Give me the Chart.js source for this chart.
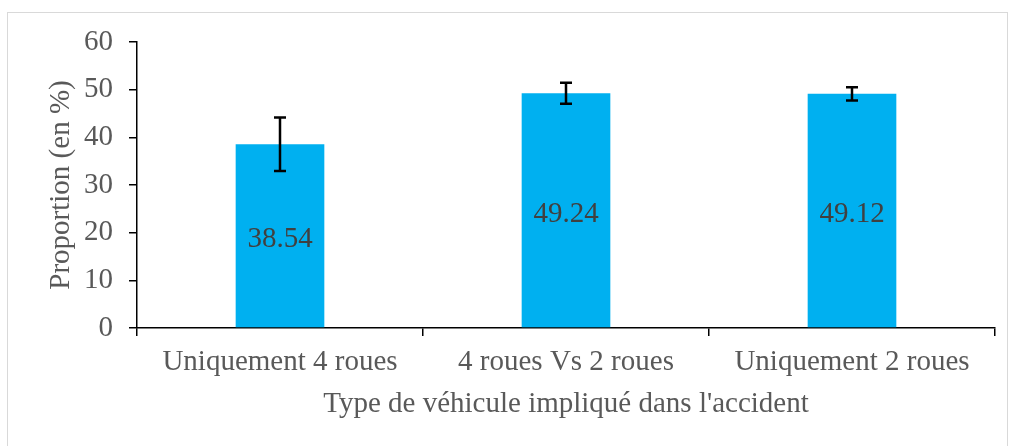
<!DOCTYPE html>
<html>
<head>
<meta charset="utf-8">
<script src="https://cdn.jsdelivr.net/npm/chart.js@4/dist/chart.umd.min.js"></script>
<style>
  html, body { margin: 0; padding: 0; background: #fff; }
  #wrap { width: 1011px; height: 446px; }
</style>
</head>
<body>
<div id="wrap"><canvas id="chart"></canvas></div>
<script>
const categories = ["Uniquement 4 roues", "4 roues Vs 2 roues", "Uniquement 2 roues"];
const proportions = [38.54, 49.24, 49.12];
const errors = [5.6, 2.2, 1.4];
const yTicks = [0, 10, 20, 30, 40, 50, 60];

const serif = "'Liberation Serif', 'Times New Roman', serif";
const fontSize = 29;

// light grey frame around the whole figure
const framePlugin = {
  id: "frame",
  beforeDraw(chart) {
    const ctx = chart.ctx;
    ctx.save();
    ctx.strokeStyle = "#d9d9d9";
    ctx.lineWidth = 1;
    ctx.strokeRect(7.5, 12.5, 1000, 440);
    ctx.restore();
  },
};

// error bars + value labels inside the bars
const barExtras = {
  id: "barExtras",
  afterDatasetsDraw(chart) {
    const ctx = chart.ctx;
    const meta = chart.getDatasetMeta(0);
    const y = chart.scales.y;
    ctx.save();
    meta.data.forEach((bar, i) => {
      const v = proportions[i];
      const e = errors[i];
      // value label
      ctx.fillStyle = "#404040";
      ctx.font = fontSize + "px " + serif;
      ctx.textAlign = "center";
      ctx.textBaseline = "middle";
      ctx.fillText(v.toFixed(2), bar.x, (bar.y + bar.base) / 2 + 4);
      // error bar
      const top = y.getPixelForValue(v + e);
      const bot = y.getPixelForValue(v - e);
      ctx.strokeStyle = "#000";
      ctx.lineWidth = 2.5;
      ctx.beginPath();
      ctx.moveTo(bar.x, top);
      ctx.lineTo(bar.x, bot);
      ctx.moveTo(bar.x - 6, top);
      ctx.lineTo(bar.x + 6, top);
      ctx.moveTo(bar.x - 6, bot);
      ctx.lineTo(bar.x + 6, bot);
      ctx.stroke();
    });
    ctx.restore();
  },
};

new Chart(document.getElementById("chart"), {
  type: "bar",
  data: {
    labels: categories,
    datasets: [
      {
        label: "Proportion",
        data: proportions,
        backgroundColor: "#00b0f0",
        borderWidth: 0,
        categoryPercentage: 1,
        barPercentage: 0.31,
      },
    ],
  },
  options: {
    responsive: true,
    maintainAspectRatio: false,
    animation: false,
    layout: { padding: { top: 42, right: 16, left: 0, bottom: 0 } },
    plugins: {
      legend: { display: false },
      tooltip: { enabled: false },
    },
    scales: {
      x: {
        offset: true,
        grid: {
          offset: true,
          drawOnChartArea: false,
          drawTicks: true,
          tickLength: 8,
          color: "#000",
          lineWidth: 1.5,
        },
        border: { color: "#000", width: 1.5 },
        ticks: {
          font: { family: serif, size: fontSize },
          color: "#595959",
          padding: 9,
          maxRotation: 0,
        },
        title: {
          display: true,
          text: "Type de véhicule impliqué dans l'accident",
          font: { family: serif, size: fontSize },
          color: "#595959",
          padding: { top: 4, bottom: 24 },
        },
        afterFit(scale) {
          scale.height = 118;
        },
      },
      y: {
        min: 0,
        max: 60,
        afterBuildTicks(scale) {
          scale.ticks = yTicks.map((v) => ({ value: v }));
        },
        grid: {
          drawOnChartArea: false,
          drawTicks: true,
          tickLength: 8,
          color: "#000",
          lineWidth: 1.5,
        },
        border: { color: "#000", width: 1.5 },
        ticks: {
          font: { family: serif, size: fontSize },
          color: "#595959",
          padding: 16,
        },
        title: {
          display: true,
          text: "Proportion (en %)",
          font: { family: serif, size: fontSize },
          color: "#595959",
          padding: { top: 44, bottom: 0 },
        },
        afterFit(scale) {
          scale.width = 137;
        },
      },
    },
  },
  plugins: [framePlugin, barExtras],
});
</script>
</body>
</html>
